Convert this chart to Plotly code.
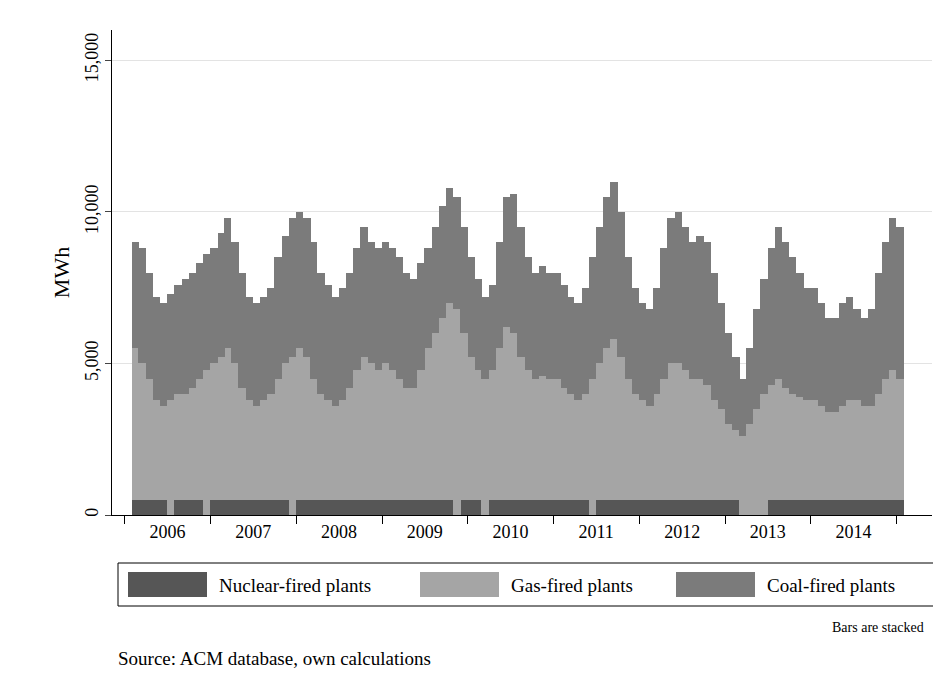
import pandas as pd
import plotly.graph_objects as go

# monthly averages, Feb 2006 - Jan 2015 (thousand MWh)
months = pd.date_range("2006-02-01", "2015-01-01", freq="MS")

total = [9.0, 8.8, 8.0, 7.2, 7.0, 7.3, 7.6, 7.8, 8.0, 8.3, 8.6,
         8.8, 9.3, 9.8, 9.0, 8.0, 7.2, 7.0, 7.2, 7.5, 8.5, 9.2, 9.8,
         10.0, 9.8, 9.0, 8.0, 7.6, 7.2, 7.5, 8.0, 8.8, 9.5, 9.0, 8.8,
         9.0, 8.8, 8.5, 8.0, 7.8, 8.3, 8.8, 9.5, 10.2, 10.8, 10.5, 9.5,
         8.5, 7.8, 7.2, 7.6, 9.0, 10.5, 10.6, 9.5, 8.5, 8.0, 8.2, 8.0,
         8.0, 7.6, 7.2, 7.0, 7.5, 8.5, 9.5, 10.5, 11.0, 10.0, 8.5, 7.5,
         7.0, 6.8, 7.5, 8.8, 9.8, 10.0, 9.5, 9.0, 9.2, 9.0, 8.0, 7.0,
         6.0, 5.2, 4.5, 5.5, 6.8, 7.8, 8.8, 9.5, 9.0, 8.5, 8.0, 7.5,
         7.5, 7.0, 6.5, 6.5, 7.0, 7.2, 6.8, 6.5, 6.8, 8.0, 9.0, 9.8,
         9.5]

gas_top = [5.5, 5.0, 4.5, 3.8, 3.6, 3.8, 4.0, 4.0, 4.2, 4.5, 4.8,
           5.0, 5.2, 5.5, 5.0, 4.2, 3.8, 3.6, 3.8, 4.0, 4.5, 5.0, 5.2,
           5.5, 5.2, 4.5, 4.0, 3.8, 3.6, 3.8, 4.2, 4.8, 5.2, 5.0, 4.8,
           5.0, 4.8, 4.5, 4.2, 4.2, 4.8, 5.5, 6.0, 6.5, 7.0, 6.8, 6.0,
           5.2, 4.8, 4.5, 4.8, 5.5, 6.2, 6.0, 5.2, 4.8, 4.5, 4.6, 4.5,
           4.5, 4.2, 4.0, 3.8, 4.0, 4.5, 5.0, 5.5, 5.8, 5.2, 4.5, 4.0,
           3.8, 3.6, 4.0, 4.5, 5.0, 5.0, 4.8, 4.5, 4.5, 4.3, 3.8, 3.5,
           3.0, 2.8, 2.6, 3.0, 3.5, 4.0, 4.3, 4.5, 4.2, 4.0, 3.9, 3.8,
           3.8, 3.6, 3.4, 3.4, 3.6, 3.8, 3.8, 3.6, 3.6, 4.0, 4.5, 4.8,
           4.5]

nuclear = [0.5] * len(months)
for i in [5, 10, 22, 45, 49, 64, 85, 86, 87, 88]:   # outages
    nuclear[i] = 0.0

nuc = [n * 1000 for n in nuclear]
gas = [(g - n) * 1000 for g, n in zip(gas_top, nuclear)]
coal = [(t - g) * 1000 for t, g in zip(total, gas_top)]

dark, light, mid = "#565656", "#a5a5a5", "#7b7b7b"
font = "Liberation Serif"

fig = go.Figure()
for name, vals, col in [("Nuclear-fired plants", nuc, dark),
                        ("Gas-fired plants", gas, light),
                        ("Coal-fired plants", coal, mid)]:
    fig.add_bar(x=months + pd.Timedelta(days=15), y=vals, name=name,
                marker=dict(color=col, line=dict(width=0)),
                width=31 * 24 * 3600 * 1000, showlegend=False)

# page pixel -> paper coords (plot area 112..932 x, 30..515 y)
def px(x):
    return (x - 112) / 820


def py(y):
    return (515 - y) / 485


years = list(range(2006, 2015))
fig.update_layout(
    width=925, height=673, barmode="stack", bargap=0,
    paper_bgcolor="white", plot_bgcolor="white",
    margin=dict(l=104, r=1, t=22, b=166),
    font=dict(family=font, size=18, color="black"),
    xaxis=dict(type="date", range=["2005-11-08", "2015-06-01"],
               tickvals=[f"{y}-07-02" for y in years],
               ticktext=[str(y) for y in years], ticks="", showgrid=False,
               showline=True, linecolor="black", linewidth=1,
               minor=dict(tick0="2007-01-01", dtick="M12", ticks="outside",
                          ticklen=8, tickcolor="black", showgrid=False)),
    yaxis=dict(range=[0, 16000], tickvals=[0, 5000, 10000, 15000],
               ticktext=["0", "5,000", "10,000", "15,000"], tickangle=-90,
               ticks="outside", ticklen=6, showline=True, linecolor="black",
               gridcolor="#e3e3e3", zeroline=False,
               title=dict(text="MWh", standoff=6)),
)

# legend drawn as a Stata-style box below the plot
fig.add_shape(type="rect", xref="paper", yref="paper",
              x0=px(118), x1=px(935), y0=py(606), y1=py(563),
              line=dict(color="black", width=1), fillcolor="white")
leg = [("Nuclear-fired plants", dark, 128), ("Gas-fired plants", light, 420),
       ("Coal-fired plants", mid, 676)]
for name, col, x0 in leg:
    fig.add_shape(type="rect", xref="paper", yref="paper",
                  x0=px(x0), x1=px(x0 + 79), y0=py(597), y1=py(572),
                  line=dict(width=0), fillcolor=col)
    fig.add_annotation(text=name, xref="paper", yref="paper", x=px(x0 + 89),
                       y=py(585), xanchor="left", yanchor="middle",
                       showarrow=False, font=dict(size=19))

fig.add_annotation(text="Bars are stacked", xref="paper", yref="paper",
                   x=px(926), y=py(627), xanchor="right", yanchor="middle",
                   showarrow=False, font=dict(size=14))
fig.add_annotation(text="Source: ACM database, own calculations",
                   xref="paper", yref="paper", x=px(116), y=py(658),
                   xanchor="left", yanchor="middle", showarrow=False,
                   font=dict(size=19))

fig.write_html("out.html")
